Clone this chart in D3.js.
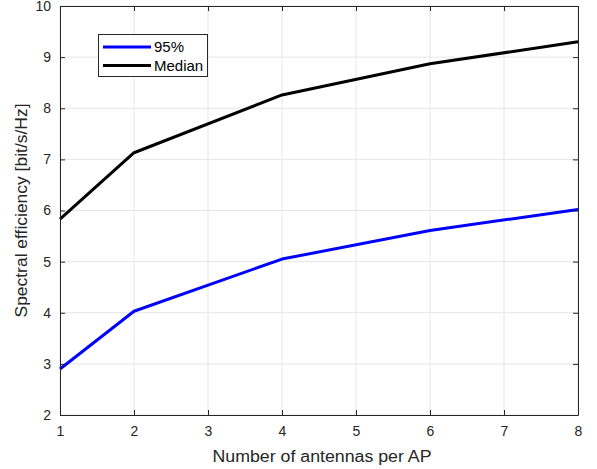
<!DOCTYPE html>
<html><head><meta charset="utf-8">
<script src="https://cdn.jsdelivr.net/npm/d3@7"></script>
<style>body{margin:0;background:#fff;} text{font-family:"Liberation Sans",Arial,sans-serif;fill:#262626;}</style>
</head><body>
<svg id="c" width="597" height="469"></svg>
<script>
const antennas = [1, 2, 4, 6, 8];
const se95 = [2.90, 4.03, 5.05, 5.61, 6.02];
const seMedian = [5.83, 7.13, 8.26, 8.87, 9.30];
const xTicks = [1, 2, 3, 4, 5, 6, 7, 8];
const yTicks = [2, 3, 4, 5, 6, 7, 8, 9, 10];
const seriesNames = ["95%", "Median"];

const svg = d3.select("#c");
const L = 60, R = 578, T = 6, B = 415;
const x = d3.scaleLinear().domain([1, 8]).range([L, R]);
const y = d3.scaleLinear().domain([2, 10]).range([B, T]);

svg.append("rect").attr("x", L).attr("y", T).attr("width", R - L).attr("height", B - T).attr("fill", "#fff");

// grid
const g = svg.append("g");
g.selectAll(".gx").data(xTicks).enter().append("line")
  .attr("x1", d => x(d)).attr("x2", d => x(d)).attr("y1", T).attr("y2", B)
  .attr("stroke", "#e6e6e6").attr("stroke-width", 1);
g.selectAll(".gy").data(yTicks).enter().append("line")
  .attr("x1", L).attr("x2", R).attr("y1", d => y(d)).attr("y2", d => y(d))
  .attr("stroke", "#e6e6e6").attr("stroke-width", 1);

// lines
const line = d3.line().x((d, i) => x(antennas[i])).y(d => y(d));
svg.append("path").datum(se95).attr("d", line).attr("fill", "none").attr("stroke", "#0000ff").attr("stroke-width", 3).attr("stroke-linejoin", "round");
svg.append("path").datum(seMedian).attr("d", line).attr("fill", "none").attr("stroke", "#000").attr("stroke-width", 3).attr("stroke-linejoin", "round");

// axes
const fmt = d3.format("d");
const xAxisB = d3.axisBottom(x).tickValues(xTicks).tickFormat(fmt).tickSize(-5).tickPadding(11).tickSizeOuter(0);
const xAxisT = d3.axisTop(x).tickValues(xTicks).tickSize(-5).tickFormat("").tickSizeOuter(0);
const yAxisL = d3.axisLeft(y).tickValues(yTicks).tickFormat(fmt).tickSize(-5).tickPadding(9).tickSizeOuter(0);
const yAxisR = d3.axisRight(y).tickValues(yTicks).tickSize(-5).tickFormat("").tickSizeOuter(0);
function style(sel) {
  sel.selectAll("path").attr("stroke", "#262626");
  sel.selectAll("line").attr("stroke", "#262626");
  sel.selectAll("text").style("font-size", "14px").style("fill", "#262626").style("font-family", '"Liberation Sans",Arial,sans-serif');
}
svg.append("g").attr("transform", `translate(0,${B})`).call(xAxisB).call(style);
svg.append("g").attr("transform", `translate(0,${T})`).call(xAxisT).call(style);
svg.append("g").attr("transform", `translate(${L},0)`).call(yAxisL).call(style);
svg.append("g").attr("transform", `translate(${R},0)`).call(yAxisR).call(style);

// labels
svg.append("text").attr("x", (L + R) / 2 + 3).attr("y", 462).attr("text-anchor", "middle")
  .attr("textLength", 219).attr("lengthAdjust", "spacingAndGlyphs")
  .style("font-size", "16px").text("Number of antennas per AP");
svg.append("text").attr("transform", `translate(27,${(T + B) / 2}) rotate(-90)`).attr("text-anchor", "middle")
  .attr("textLength", 214).attr("lengthAdjust", "spacingAndGlyphs")
  .style("font-size", "16px").text("Spectral efficiency [bit/s/Hz]");

// legend
const lg = svg.append("g");
lg.append("rect").attr("x", 98.5).attr("y", 34.5).attr("width", 109).attr("height", 42)
  .attr("fill", "#fff").attr("stroke", "#262626").attr("stroke-width", 1);
const colors = ["#0000ff", "#000"];
seriesNames.forEach((n, i) => {
  const yy = 47 + i * 18.5;
  lg.append("line").attr("x1", 103).attr("x2", 151).attr("y1", yy).attr("y2", yy)
    .attr("stroke", colors[i]).attr("stroke-width", 3);
  lg.append("text").attr("x", 154).attr("y", yy + 5).style("font-size", "15px").style("fill", "#000").text(n);
});
</script>
</body></html>
